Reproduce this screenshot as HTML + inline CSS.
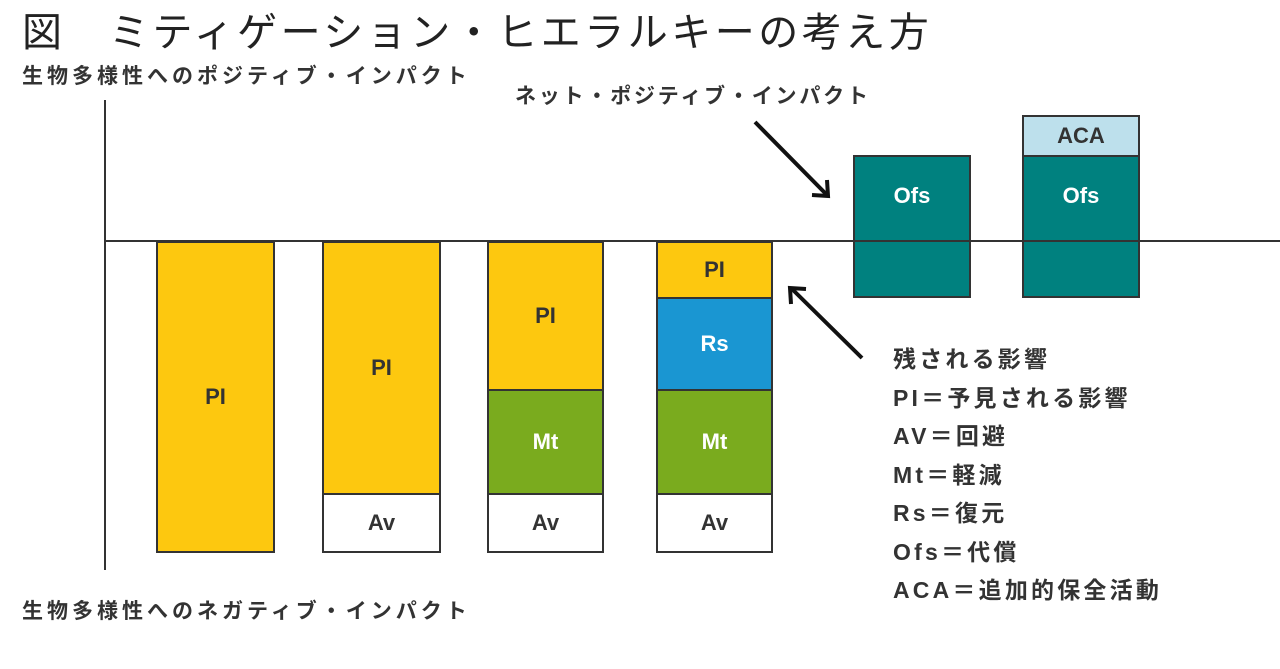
<!DOCTYPE html>
<html><head><meta charset="utf-8"><style>
body{margin:0;width:1280px;height:669px;background:#fff;position:relative;overflow:hidden;font-family:"Liberation Sans","Noto Sans CJK JP",sans-serif}
.a{position:absolute}
.b{position:absolute;box-sizing:border-box;border:2px solid #333;display:flex;align-items:center;justify-content:center;font-size:22px;font-weight:bold}
.y{background:#fdc80f;color:#333}.t{background:#00817f;color:#fff}.g{background:#7aab1e;color:#fff}.bl{background:#1a96d2;color:#fff}.w{background:#fff;color:#333}.lb{background:#bde0ec;color:#333}
.lab{position:absolute;font-size:21px;font-weight:bold;color:#333;white-space:nowrap;letter-spacing:4px}
</style></head><body>
<div class="a" style="left:22px;top:0px;font-size:40px;color:#222;white-space:nowrap;letter-spacing:3.5px">図　ミティゲーション・ヒエラルキーの考え方</div>
<div class="lab" style="left:22px;top:60px">生物多様性へのポジティブ・インパクト</div>
<div class="lab" style="left:22px;top:595px">生物多様性へのネガティブ・インパクト</div>
<div class="lab" style="left:515px;top:80px;letter-spacing:2.8px">ネット・ポジティブ・インパクト</div>
<div class="a" style="left:104px;top:100px;width:2px;height:470px;background:#333"></div>
<div class="b y" style="left:156px;top:241px;width:119px;height:312px">PI</div>
<div class="b y" style="left:322px;top:241px;width:119px;height:254px">PI</div>
<div class="b w" style="left:322px;top:493px;width:119px;height:60px">Av</div>
<div class="b y" style="left:487px;top:241px;width:117px;height:150px">PI</div>
<div class="b g" style="left:487px;top:389px;width:117px;height:106px">Mt</div>
<div class="b w" style="left:487px;top:493px;width:117px;height:60px">Av</div>
<div class="b y" style="left:656px;top:241px;width:117px;height:58px">PI</div>
<div class="b bl" style="left:656px;top:297px;width:117px;height:94px">Rs</div>
<div class="b g" style="left:656px;top:389px;width:117px;height:106px">Mt</div>
<div class="b w" style="left:656px;top:493px;width:117px;height:60px">Av</div>
<div class="b t" style="left:853px;top:155px;width:118px;height:143px;align-items:flex-start;padding-top:26px">Ofs</div>
<div class="b lb" style="left:1022px;top:115px;width:118px;height:42px">ACA</div>
<div class="b t" style="left:1022px;top:155px;width:118px;height:143px;align-items:flex-start;padding-top:26px">Ofs</div>
<div class="a" style="left:105px;top:240px;width:1175px;height:2px;background:#333"></div>
<svg class="a" style="left:0;top:0" width="1280" height="669">
<g stroke="#111" stroke-width="4" fill="none">
<line x1="755" y1="122" x2="827" y2="195"/><polyline points="812,195 828,196 827,180"/>
<line x1="862" y1="358" x2="792" y2="289"/><polyline points="791,304 790,288 806,289"/>
</g></svg>
<div class="a" style="left:893px;top:340px;font-size:23px;font-weight:bold;color:#333;line-height:38.5px;white-space:nowrap;letter-spacing:3.2px">残される影響<br>PI＝予見される影響<br>AV＝回避<br>Mt＝軽減<br>Rs＝復元<br>Ofs＝代償<br>ACA＝追加的保全活動</div>
</body></html>
